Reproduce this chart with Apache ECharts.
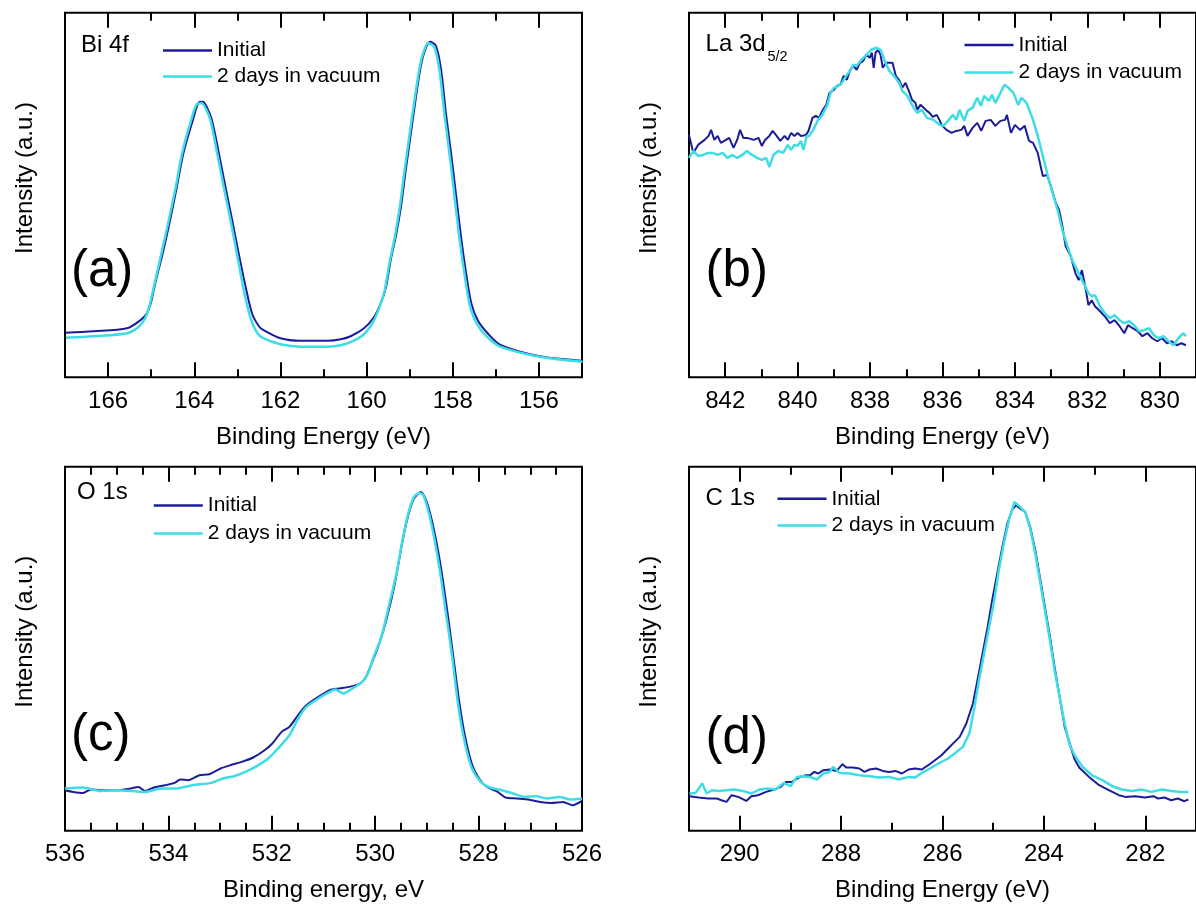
<!DOCTYPE html>
<html><head><meta charset="utf-8">
<script src="https://cdn.jsdelivr.net/npm/echarts@6/dist/echarts.min.js"></script>
<style>html,body{margin:0;padding:0;background:#fff}#c{width:1196px;height:906px}</style>
</head><body><div id="c"></div>
<script>
// ---------- data (binding energy eV, intensity a.u.) ----------
const seriesNames = ['Initial', '2 days in vacuum'];
const panelTags = ['(a)', '(b)', '(c)', '(d)'];
const xAxisNames = ['Binding Energy (eV)', 'Binding Energy (eV)', 'Binding energy, eV', 'Binding Energy (eV)'];
const yAxisName = 'Intensity (a.u.)';
const xRanges = [[155, 167], [829, 843], [526, 536], [281, 291]];
const majorSplits = [6, 7, 5, 5];
const minorSplits = [12, 14, 20, 10];

const biInitial = [[166.98,44.6],[166.34,46],[165.56,49],[165.25,57],[165.10,64],[165.01,74],[164.92,91],[164.83,107],[164.73,124],[164.56,157],[164.40,191],[164.25,224],[164.03,257],[163.90,274],[163.80,275],[163.70,269],[163.59,257],[163.43,224],[163.28,191],[163.12,157],[162.97,124],[162.81,91],[162.66,64],[162.50,51],[162.39,47],[162.00,39],[161.53,36.5],[160.90,36.5],[160.60,38],[160.37,41],[160.06,49],[159.83,60],[159.67,74],[159.55,90],[159.44,117],[159.32,141],[159.20,171],[159.09,207],[158.97,244],[158.85,281],[158.74,311],[158.64,327],[158.53,335],[158.39,331],[158.27,307],[158.16,264],[158.04,224],[157.92,181],[157.81,141],[157.69,104],[157.57,74],[157.42,57],[157.19,44],[156.88,32],[155.98,21],[154.99,16.6]];
const biVacuum = [[166.98,39.6],[166.34,41],[165.56,44],[165.30,50],[165.15,58],[165.05,70],[164.95,88],[164.86,105],[164.76,124],[164.59,157],[164.43,190],[164.28,224],[164.07,257],[163.93,273],[163.83,273.5],[163.73,268],[163.62,256],[163.46,222],[163.31,189],[163.15,155],[163.00,121],[162.85,87],[162.70,60],[162.55,45],[162.40,39],[162.00,33],[161.53,30.6],[160.90,30.6],[160.60,32],[160.37,35],[160.06,43],[159.85,55],[159.70,70],[159.58,87],[159.47,114],[159.35,139],[159.23,170],[159.12,206],[159.00,243],[158.88,279],[158.77,309],[158.67,326],[158.57,333.5],[158.43,330],[158.31,307],[158.19,262],[158.07,221],[157.95,177],[157.84,137],[157.72,101],[157.60,71],[157.45,54],[157.22,41],[156.90,30.6],[155.98,20.5],[154.99,15.6]];

const laInitial = [[843.00,242],[842.88,224],[842.75,232],[842.57,237],[842.46,241],[842.39,247],[842.30,237],[842.21,241],[842.12,234],[841.98,237],[841.89,239],[841.77,229],[841.67,237],[841.59,247],[841.50,239],[841.40,239],[841.21,237],[841.08,239],[840.99,231],[840.90,237],[840.78,241],[840.69,246],[840.58,241],[840.48,236],[840.36,241],[840.27,237],[840.18,244],[840.09,241],[840.00,244],[839.91,241],[839.77,242],[839.70,246],[839.59,259],[839.50,261],[839.41,259],[839.32,266],[839.21,272],[839.12,284],[839.00,287],[838.91,291],[838.82,292],[838.73,301],[838.64,297],[838.55,307],[838.46,311],[838.37,307],[838.28,314],[838.19,316],[838.10,322],[838.01,319],[837.95,324],[837.90,309],[837.85,324],[837.78,327],[837.71,322],[837.65,309],[837.56,314],[837.47,314],[837.38,314],[837.29,301],[837.20,297],[837.11,289],[837.02,294],[836.93,286],[836.84,277],[836.75,274],[836.69,267],[836.61,272],[836.52,269],[836.43,266],[836.36,264],[836.27,260],[836.16,262],[836.07,256],[836.03,252],[835.89,247],[835.75,244],[835.62,246],[835.48,247],[835.40,251],[835.31,241],[835.17,249],[835.04,254],[834.93,246],[834.81,256],[834.67,257],[834.54,251],[834.40,256],[834.27,257],[834.22,262],[834.11,244],[834.00,252],[833.86,247],[833.73,251],[833.61,236],[833.50,234],[833.37,224],[833.23,201],[833.11,202],[833.01,191],[832.87,174],[832.78,167],[832.69,151],[832.60,131],[832.46,121],[832.33,104],[832.24,97],[832.15,107],[832.06,91],[831.97,72],[831.88,77],[831.79,71],[831.65,66],[831.52,61],[831.38,54],[831.25,57],[831.11,51],[830.98,44],[830.88,52],[830.75,49],[830.61,46],[830.48,41],[830.34,44],[830.21,39],[830.07,36],[829.94,39],[829.80,34],[829.67,36],[829.53,32],[829.40,34],[829.28,32]];
const laVacuum = [[843.00,219],[842.88,226],[842.75,221],[842.61,222],[842.48,224],[842.34,224],[842.21,222],[842.07,224],[841.94,219],[841.80,222],[841.67,219],[841.53,222],[841.40,226],[841.26,222],[841.12,219],[840.99,217],[840.87,219],[840.78,210],[840.67,222],[840.54,226],[840.40,224],[840.27,232],[840.18,227],[840.09,232],[840.00,231],[839.91,236],[839.84,227],[839.75,241],[839.68,241],[839.57,247],[839.45,256],[839.32,262],[839.18,272],[839.09,284],[839.00,289],[838.87,291],[838.78,294],[838.64,302],[838.55,306],[838.46,312],[838.37,311],[838.24,317],[838.10,322],[837.97,327],[837.83,329],[837.71,327],[837.61,317],[837.47,306],[837.34,301],[837.20,294],[837.11,286],[836.97,281],[836.84,272],[836.70,264],[836.57,267],[836.43,259],[836.25,257],[836.07,252],[835.98,251],[835.85,256],[835.71,262],[835.62,257],[835.53,267],[835.40,256],[835.31,266],[835.17,269],[835.04,279],[834.94,271],[834.85,281],[834.72,276],[834.63,282],[834.54,274],[834.40,284],[834.29,292],[834.18,289],[834.04,284],[833.91,272],[833.82,279],[833.68,274],[833.50,257],[833.37,241],[833.23,221],[833.09,201],[832.96,184],[832.82,167],[832.69,147],[832.55,131],[832.42,117],[832.28,107],[832.15,97],[832.06,91],[831.97,84],[831.88,81],[831.79,82],[831.65,71],[831.52,64],[831.38,59],[831.25,62],[831.11,57],[830.98,54],[830.84,56],[830.71,52],[830.57,46],[830.43,47],[830.30,49],[830.16,42],[830.03,39],[829.89,41],[829.76,36],[829.62,32],[829.49,39],[829.35,44],[829.28,41]];

const oInitial = [[536.00,40.5],[535.84,38.8],[535.65,37.8],[535.50,41.2],[535.32,40.5],[535.02,40.5],[534.73,42.2],[534.58,43.8],[534.45,39.8],[534.28,43.2],[534.06,45.5],[533.88,47.8],[533.77,51.2],[533.62,50.5],[533.40,55.5],[533.21,56.5],[532.99,62.2],[532.80,65.5],[532.58,68.8],[532.36,73.2],[532.14,80.5],[531.99,87.2],[531.81,98.8],[531.66,103.8],[531.47,117.2],[531.33,125.5],[531.10,133.8],[530.88,140.5],[530.70,142.2],[530.51,143.8],[530.29,147.2],[530.18,153.8],[530.07,167.2],[529.92,187.2],[529.77,213.8],[529.62,247.2],[529.48,287.2],[529.37,313.8],[529.25,332.2],[529.12,338.8],[529.03,332.2],[528.92,313.8],[528.81,287.2],[528.70,253.8],[528.59,213.8],[528.48,170.5],[528.37,127.2],[528.26,93.8],[528.11,63.8],[527.92,47.2],[527.78,42.2],[527.63,38.8],[527.48,33.2],[527.26,32.2],[527.04,31.2],[526.81,28.8],[526.59,27.8],[526.37,28.8],[526.18,25.5],[526.00,29.8]];
const oVacuum = [[536.00,42.2],[535.65,43.2],[535.32,39.8],[535.02,40.5],[534.45,38.8],[534.14,42.2],[533.84,42.2],[533.54,45.5],[533.17,47.8],[532.95,52.2],[532.73,54.5],[532.51,58.8],[532.29,64.5],[532.07,72.2],[531.88,82.2],[531.66,95.5],[531.47,113.8],[531.33,123.8],[531.10,132.2],[530.88,138.8],[530.77,141.2],[530.62,137.2],[530.44,142.2],[530.25,148.8],[530.14,157.2],[530.03,173.8],[529.88,193.8],[529.74,223.8],[529.59,257.2],[529.48,288.8],[529.37,315.5],[529.25,333.8],[529.14,337.8],[529.07,335.5],[528.96,317.2],[528.85,290.5],[528.74,257.2],[528.63,217.2],[528.51,173.8],[528.40,127.2],[528.29,93.8],[528.14,63.8],[527.96,48.8],[527.78,43.2],[527.55,40.5],[527.33,37.2],[527.11,33.8],[526.89,34.5],[526.67,32.2],[526.44,33.8],[526.22,31.2],[526.00,32.2]];

const cInitial = [[290.99,34.5],[290.81,33.2],[290.62,32.2],[290.45,32.2],[290.36,30.5],[290.26,28.8],[290.16,35.5],[290.03,33.8],[289.87,29.8],[289.77,34.5],[289.64,35.5],[289.48,38.8],[289.32,41.2],[289.19,43.8],[289.09,48.8],[288.97,48.8],[288.83,53.2],[288.70,55.5],[288.61,55.5],[288.53,58.8],[288.45,57.2],[288.35,60.5],[288.22,61.2],[288.09,59.8],[287.97,66.5],[287.90,63.2],[287.77,63.2],[287.64,62.2],[287.54,58.8],[287.44,61.2],[287.31,62.2],[287.18,59.8],[287.05,58.8],[286.93,59.8],[286.80,57.2],[286.67,61.2],[286.54,62.2],[286.41,61.2],[286.28,65.5],[286.15,70.5],[286.02,75.5],[285.89,82.2],[285.76,88.8],[285.66,93.8],[285.53,107.2],[285.40,127.2],[285.31,150.5],[285.21,177.2],[285.11,203.8],[285.02,230.5],[284.92,257.2],[284.82,283.8],[284.72,307.2],[284.63,320.5],[284.55,325.5],[284.47,322.2],[284.37,318.8],[284.27,303.8],[284.17,280.5],[284.08,253.8],[283.98,223.8],[283.88,193.8],[283.79,163.8],[283.69,133.8],[283.59,103.8],[283.47,83.8],[283.40,72],[283.30,63],[283.11,53.8],[282.91,45.5],[282.72,40.5],[282.52,35.5],[282.39,33.8],[282.20,34.5],[282.01,33.2],[281.84,34.5],[281.75,32.2],[281.62,33.2],[281.49,30.5],[281.36,32.2],[281.23,29.5],[281.15,31.2]];
const cVacuum = [[290.99,37.2],[290.87,37.8],[290.74,47.2],[290.65,37.2],[290.55,40.5],[290.42,39.8],[290.26,40.5],[290.10,41.2],[289.94,39.8],[289.77,37.2],[289.61,41.2],[289.45,42.2],[289.29,41.2],[289.13,47.8],[289.00,44.5],[288.87,53.8],[288.74,54.5],[288.61,53.8],[288.48,51.2],[288.35,57.2],[288.22,58.8],[288.16,63.8],[288.03,57.8],[287.83,57.2],[287.64,55.5],[287.44,54.5],[287.25,53.2],[287.05,53.8],[286.86,51.2],[286.67,53.8],[286.54,53.2],[286.41,57.8],[286.25,62.2],[286.08,67.2],[285.89,72.2],[285.76,77.2],[285.60,83.8],[285.47,97.2],[285.37,123.8],[285.28,150.5],[285.18,177.2],[285.08,203.8],[284.98,230.5],[284.89,260.5],[284.79,287.2],[284.69,310.5],[284.58,328.8],[284.47,323.8],[284.37,318.8],[284.27,302.2],[284.17,277.2],[284.08,250.5],[283.98,220.5],[283.88,190.5],[283.79,160.5],[283.69,133.8],[283.59,107.2],[283.50,87.2],[283.40,76],[283.24,64],[283.04,55],[282.85,50.5],[282.65,44.5],[282.46,41.2],[282.27,39.8],[282.07,41.2],[281.88,38.8],[281.68,41.2],[281.49,39.8],[281.30,38.8],[281.15,38.8]];

const panelData = [[biInitial, biVacuum], [laInitial, laVacuum], [oInitial, oVacuum], [cInitial, cVacuum]];

// ---------- layout / style ----------
const FONT = '"Liberation Sans", Arial, Helvetica, sans-serif';
const COLORS = ['#1c1c98', '#3edde6'];
const gridBoxes = [
  {left: 65, top: 12.7, width: 517, height: 364.6},
  {left: 689, top: 12.7, width: 517, height: 364.6},
  {left: 65, top: 466.7, width: 517, height: 364},
  {left: 689, top: 466.7, width: 517, height: 364}
];
const showEdgeLabels = [false, false, true, false];
const smoothPanels = [0.3, 0, 0.25, 0];
const legendPos = [
  {left: 163, top: 40, itemGap: 5},
  {left: 964.5, top: 34.5, itemGap: 6.5},
  {left: 153.8, top: 495, itemGap: 7},
  {left: 777.5, top: 488.3, itemGap: 5.7}
];

function xAx(i, pos, major) {
  const r = xRanges[i];
  const lbl = major && pos === 'bottom';
  const ax = {
    gridIndex: i, type: 'value', position: pos, inverse: true,
    min: r[0], max: r[1], splitNumber: major ? majorSplits[i] : minorSplits[i],
    axisLine: {show: false, onZero: false},
    axisTick: {show: true, inside: true, length: major ? 15 : 8, lineStyle: {color: '#000', width: 2}},
    axisLabel: {show: lbl, color: '#000', fontSize: 24, fontFamily: FONT, margin: 12,
      showMinLabel: showEdgeLabels[i], showMaxLabel: showEdgeLabels[i]},
    splitLine: {show: false}
  };
  if (lbl) {
    ax.name = xAxisNames[i];
    ax.nameLocation = 'middle';
    ax.nameGap = 48;
    ax.nameTextStyle = {color: '#000', fontSize: 24, fontFamily: FONT};
  }
  return ax;
}

const xAxes = [], yAxes = [], series = [], legends = [];
for (let i = 0; i < 4; i++) {
  xAxes.push(xAx(i, 'bottom', true), xAx(i, 'bottom', false), xAx(i, 'top', true), xAx(i, 'top', false));
  yAxes.push({
    gridIndex: i, type: 'value', min: 0, max: 364,
    axisLine: {show: false}, axisTick: {show: false}, axisLabel: {show: false}, splitLine: {show: false},
    name: yAxisName, nameLocation: 'middle', nameGap: 28,
    nameTextStyle: {color: '#000', fontSize: 24, fontFamily: FONT, padding: [0, 0, 0, 34]}
  });
  for (let s = 0; s < 2; s++) {
    series.push({
      type: 'line', name: seriesNames[s], xAxisIndex: 4 * i, yAxisIndex: i,
      data: panelData[i][s], symbol: 'none', smooth: smoothPanels[i],
      lineStyle: {color: COLORS[s], width: s === 0 ? 2 : 2.5}, itemStyle: {color: COLORS[s]},
      z: 2 + s, animation: false
    });
  }
  legends.push({
    data: seriesNames.map((n, s) => ({name: n, icon: 'rect', itemStyle: {color: COLORS[s]}})),
    orient: 'vertical', left: legendPos[i].left, top: legendPos[i].top,
    itemGap: legendPos[i].itemGap, itemWidth: 49, itemHeight: 2.5, selectedMode: false, padding: 0,
    textStyle: {color: '#000', fontSize: 21, fontFamily: FONT, lineHeight: 20}
  });
}

const tagPos = [[71, 272], [705.6, 272], [71, 736], [705.6, 739]];
const graphics = [];
panelTags.forEach((t, i) => graphics.push({type: 'text', x: tagPos[i][0], y: tagPos[i][1],
  style: {text: t, fontSize: 51, fontFamily: FONT, fill: '#000', verticalAlign: 'middle'}}));
const notes = [['Bi 4f', 81, 45], ['La 3d', 705.6, 44], ['O 1s', 77, 492], ['C 1s', 705.6, 498]];
notes.forEach(n => graphics.push({type: 'text', x: n[1], y: n[2],
  style: {text: n[0], fontSize: 24, fontFamily: FONT, fill: '#000', verticalAlign: 'middle'}}));
graphics.push({type: 'text', x: 767.5, y: 56.5,
  style: {text: '5/2', fontSize: 14.5, fontFamily: FONT, fill: '#000', verticalAlign: 'middle'}});

const chart = echarts.init(document.getElementById('c'), null, {renderer: 'canvas'});
chart.setOption({
  animation: false,
  backgroundColor: '#fff',
  grid: gridBoxes.map(g => Object.assign({show: true, borderColor: '#000', borderWidth: 2, backgroundColor: 'transparent', containLabel: false}, g)),
  xAxis: xAxes, yAxis: yAxes, series: series, legend: legends, graphic: graphics
});
</script></body></html>
